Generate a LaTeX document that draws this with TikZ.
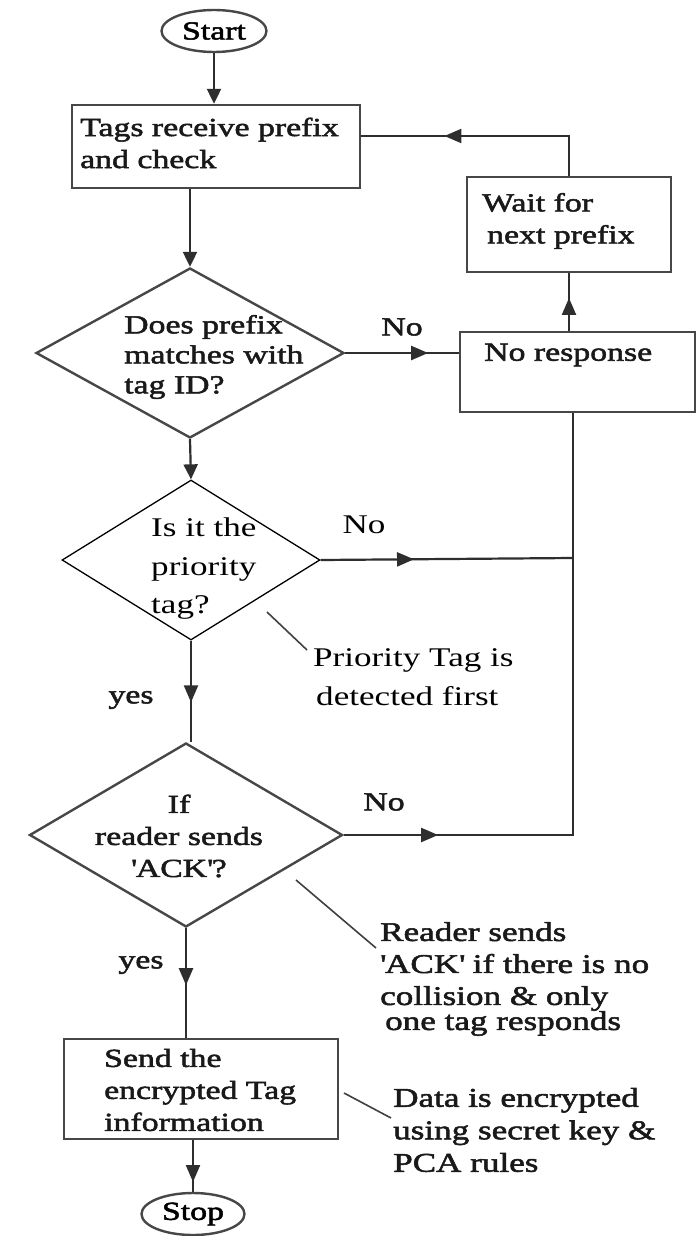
\documentclass[tikz,border=0pt]{standalone}
\usepackage{fontspec}
\setmainfont{Liberation Serif}[FakeStretch=1.3]
\newfontfamily\heavyserif{Liberation Serif}[FakeStretch=1.3,FakeBold=2]
\usetikzlibrary{shapes.geometric,arrows.meta,decorations.markings}

\begin{document}
\begin{tikzpicture}[
  x=1pt, y=-1pt,
  edge/.style={draw=black!72, line width=2.4pt},
  boxnode/.style={edge, rectangle, inner sep=0pt},
  termnode/.style={edge, ellipse, inner sep=0pt, font=\heavyserif\fontsize{26}{30}\selectfont},
  decnode/.style={edge, diamond, inner sep=0pt},
  thindec/.style={draw=black, line width=1.3pt, diamond, inner sep=0pt},
  heavytext/.style={inner sep=0pt, anchor=west, align=left, text=black!90,
    font=\heavyserif\fontsize{26}{32}\selectfont},
  lighttext/.style={inner sep=0pt, anchor=west, align=left, text=black,
    font=\fontsize{27}{39}\selectfont},
  flow/.style={draw=black!82, line width=2.2pt},
  endtip/.style={-{Triangle[length=15pt,width=14pt]}},
  midtip/.style={postaction={decorate}, decoration={markings,
    mark=at position #1 with {\arrow{Triangle[length=17pt,width=14pt]}}}},
  callout/.style={draw=black!75, line width=1.6pt}
]
\useasboundingbox[fill=white] (0,0) rectangle (697,1236);

% shapes
\node[termnode, minimum width=105pt, minimum height=42pt] (start) at (214,31) {Start};
\node[boxnode, minimum width=288pt, minimum height=83pt] (box1) at (216,146.5) {};
\node[boxnode, minimum width=204pt, minimum height=95pt] (wait) at (569,224.5) {};
\node[decnode, minimum width=308pt, minimum height=170pt] (d1) at (190,353) {};
\node[boxnode, minimum width=235pt, minimum height=80pt] (noresp) at (577.5,372) {};
\node[thindec, minimum width=258pt, minimum height=160pt] (d2) at (191,560) {};
\node[decnode, minimum width=313pt, minimum height=184pt] (d3) at (186,835) {};
\node[boxnode, minimum width=274pt, minimum height=100pt] (box4) at (201,1089) {};
\node[termnode, minimum width=103pt, minimum height=42pt] (stop) at (193,1214) {Stop};

% texts inside the shapes
\node[heavytext] (t1) at (80,143) {Tags receive prefix\\and check};
\node[heavytext] (t2) at (482,221) {Wait for\\\hspace*{5pt}next prefix};
\node[heavytext, font=\heavyserif\fontsize{26}{30}\selectfont] (t3) at (124,357) {Does prefix\\matches with\\tag ID?};
\node[heavytext] (t4) at (484,355) {No response};
\node[lighttext, font=\fontsize{27}{38.5}\selectfont] (t5) at (151,569) {Is it the\\priority\\tag?};
\node[heavytext, anchor=center, align=center] (t6) at (179,836) {If\\reader sends\\\textquotesingle ACK\textquotesingle?};
\node[heavytext] (t7) at (104,1090) {Send the\\encrypted Tag\\information};

% branch labels
\node[heavytext, anchor=center] (no1) at (402,327) {No};
\node[lighttext, anchor=center] (no2) at (364,525) {No};
\node[heavytext, anchor=center] (no3) at (384,802) {No};
\node[heavytext, anchor=center] (yes1) at (131,700) {yes};
\node[heavytext, anchor=center] (yes2) at (141,965) {yes};

% side notes
\node[lighttext] (n1) at (313,677.5) {Priority Tag is\\\hspace*{3pt}detected first};
\node[heavytext, font=\heavyserif\fontsize{27}{32}\selectfont] (n2) at (380,979) {Reader sends\\\textquotesingle ACK\textquotesingle{} if there is no\\collision \& only\\[-7pt]\hspace*{5pt}one tag responds};
\node[heavytext, font=\heavyserif\fontsize{27}{32.5}\selectfont] (n3) at (393,1130) {Data is encrypted\\using secret key \&\\PCA rules};

% junctions on the return line
\coordinate (j2) at (573,558);
\coordinate (j3) at (573,835);
\coordinate (ret) at ([yshift=10.5pt]box1.east);

% main flow
\draw[flow, endtip] (start.south) -- (start.south |- box1.north);
\draw[flow, endtip] (box1.south -| d1.north) -- (d1.north);
\draw[flow, endtip] (d1.south) -- (d2.north);
\draw[flow, midtip=0.61] (d2.south) -- (d2.south |- d3.north);
\draw[flow, midtip=0.52] (d3.south) -- (d3.south |- box4.north);
\draw[flow, midtip=0.81] (stop.north |- box4.south) -- (stop.north);

% "No" branches and the loop back
\draw[flow, midtip=0.73] (d1.east) -- (d1.east -| noresp.west);
\draw[flow, midtip=0.37] (d2.east) -- (j2);
\draw[flow, midtip=0.145] (d3.east) -- (j3) -- (noresp.south -| j3);
\draw[flow, midtip=0.57] (noresp.north -| wait.south) -- (wait.south);
\draw[flow, midtip=0.664] (wait.north) -- (wait.north |- ret) -- (ret);

% note leaders
\coordinate (c1a) at (267,612);
\coordinate (c1b) at (307,650);
\coordinate (c2a) at (296,880);
\coordinate (c2b) at (376,948);
\coordinate (c3a) at (344,1093);
\coordinate (c3b) at (391,1118);
\draw[callout] (c1a) -- (c1b);
\draw[callout] (c2a) -- (c2b);
\draw[callout] (c3a) -- (c3b);
\end{tikzpicture}
\end{document}
